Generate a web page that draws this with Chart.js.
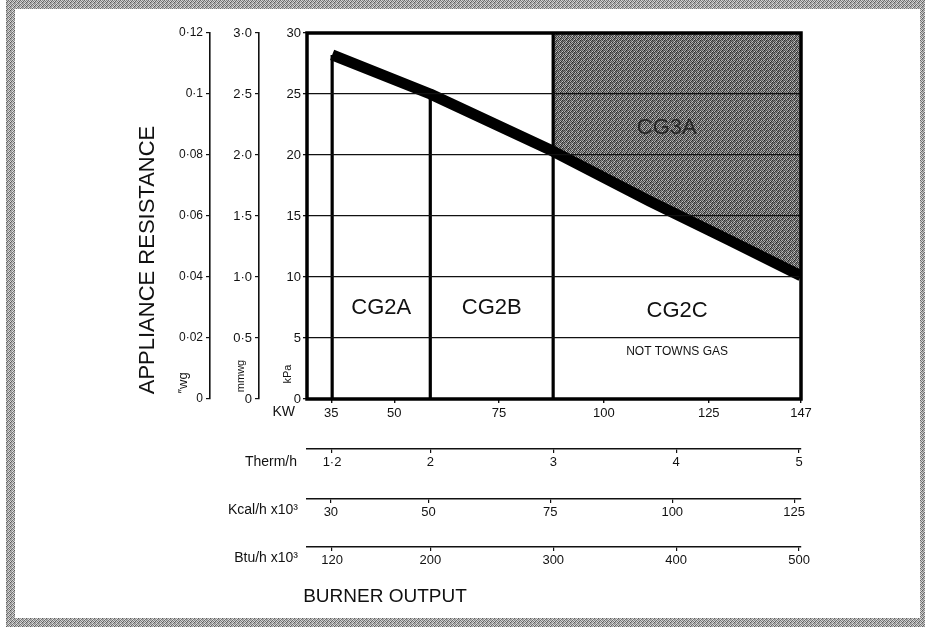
<!DOCTYPE html>
<html>
<head>
<meta charset="utf-8">
<script src="https://cdn.jsdelivr.net/npm/chart.js@4.4.1/dist/chart.umd.min.js"></script>
<style>
  html, body { margin: 0; padding: 0; background: #fff; }
  #wrap { width: 925px; height: 627px; position: relative; }
</style>
</head>
<body>
<div id="wrap"><canvas id="c"></canvas></div>
<script>
// ---------------- data ----------------
const kwTicks = [35, 50, 75, 100, 125, 147];
const kpaTicks = [0, 5, 10, 15, 20, 25, 30];
const mmwgTicks = [0, 0.5, 1.0, 1.5, 2.0, 2.5, 3.0];
const mmwgLabels = ['0', '0·5', '1·0', '1·5', '2·0', '2·5', '3·0'];
const wgTicks = [0, 0.02, 0.04, 0.06, 0.08, 0.1, 0.12];
const wgLabels = ['0', '0·02', '0·04', '0·06', '0·08', '0·1', '0·12'];
const thermTicks = [1.2, 2, 3, 4, 5];
const thermLabels = ['1·2', '2', '3', '4', '5'];
const kcalTicks = [30, 50, 75, 100, 125];
const btuTicks = [120, 200, 300, 400, 500];

// appliance resistance curve (kW -> kPa)
const curveKW  = [35.2, 58.6, 87.9, 111, 130, 147];
const curveKPa = [28.2, 25.0, 20.3, 16.2, 13.0, 10.1];

// category boundaries (1.2, 2 and 3 therm/h) and the height each reaches
const dividerKW = [35.2, 58.6, 87.9];
const dividerTopKPa = [28.2, 25.0, 30];

const regionNames = ['CG2A', 'CG2B', 'CG2C', 'CG3A'];
const regionNote = 'NOT TOWNS GAS';

// axis ranges and unit conversions
const KW_MIN = 29.2, KW_MAX = 147;
const KPA_MAX = 30;
const KW_PER_THERM = 29.3071;   // kW per therm/h
const KW_PER_KCAL = 1.163;      // kW per 1000 kcal/h
const KW_PER_BTU = 0.29307;     // kW per 1000 Btu/h
const MMWG_PER_KPA = 0.1;       // as printed on the chart
const WG_PER_KPA = 0.004;       // as printed on the chart

// ---------------- styling helpers ----------------
const FONT = "'Liberation Sans', Arial, Helvetica, sans-serif";
const INK = '#111';

function makePattern(pixels, size) {
  const c = document.createElement('canvas');
  c.width = size; c.height = size;
  const g = c.getContext('2d');
  const img = g.createImageData(size, size);
  pixels.forEach((v, i) => {
    img.data[i * 4] = v; img.data[i * 4 + 1] = v; img.data[i * 4 + 2] = v; img.data[i * 4 + 3] = 255;
  });
  g.putImageData(img, 0, 0);
  return g.createPattern(c, 'repeat');
}
const SHADE_PIXELS = [
   45, 175,  80, 140,  60, 190,
  150,  70, 185,  40, 160,  85,
   95, 165,  35, 125,  75, 150,
  180,  55, 115,  90, 200,  50,
   65, 145,  70, 170,  45, 120,
  135,  95, 195,  60, 110,  80
];
const EDGE_PIXELS = [
  110, 210, 140, 190,
  200, 120, 220, 100,
  150, 215,  90, 180,
  225, 115, 170, 145
];
const shadePattern = makePattern(SHADE_PIXELS, 6);
const edgePattern = makePattern(EDGE_PIXELS, 4);

const fixedTicks = (vals) => (s) => { s.ticks = vals.map(v => ({ value: v })); };
const fixWidth = (w) => (s) => { s.width = w; };
const fixHeight = (h) => (s) => { s.height = h; };
const labelFor = (vals, labels) => (v) => {
  const i = vals.findIndex(t => Math.abs(t - v) < 1e-9);
  return i >= 0 ? labels[i] : '';
};

function auxAxis(weight, min, max, ticks, labels, h) {
  return {
    type: 'linear', axis: 'x', position: 'bottom', weight: weight,
    min: min, max: max,
    afterBuildTicks: fixedTicks(ticks),
    afterFit: fixHeight(h),
    ticks: { autoSkip: false, maxRotation: 0, padding: 2, color: INK,
             font: { family: FONT, size: 13 }, callback: labelFor(ticks, labels) },
    grid: { drawOnChartArea: false, drawTicks: true, tickLength: 4, color: INK, lineWidth: 1.2 },
    border: { display: true, width: 1.6, color: INK }
  };
}
function sideAxis(weight, max, ticks, labels, w, size) {
  return {
    type: 'linear', axis: 'y', position: 'left', weight: weight,
    min: 0, max: max,
    afterBuildTicks: fixedTicks(ticks),
    afterFit: fixWidth(w),
    ticks: { autoSkip: false, padding: 3, color: INK,
             font: { family: FONT, size: size }, callback: labelFor(ticks, labels) },
    grid: { drawOnChartArea: false, drawTicks: true, tickLength: 4, color: INK, lineWidth: 1.2 },
    border: { display: true, width: 1.6, color: INK }
  };
}

// ---------------- datasets ----------------
const curveData = curveKW.map((x, i) => ({ x: x, y: curveKPa[i] }));
const shadeStart = curveKW.indexOf(dividerKW[2]);
const shadeData = [{ x: dividerKW[2], y: KPA_MAX }, { x: KW_MAX, y: KPA_MAX }]
  .concat(curveData.slice(shadeStart).reverse());

const datasets = [
  { label: 'Appliance resistance', data: curveData, borderColor: '#000', borderWidth: 11,
    borderCapStyle: 'butt', borderJoinStyle: 'round', pointRadius: 0, tension: 0,
    fill: false, order: 0, clip: 0 },
  ...dividerKW.map((x, i) => ({
    label: 'boundary ' + i, data: [{ x: x, y: 0 }, { x: x, y: dividerTopKPa[i] }],
    borderColor: '#000', borderWidth: 3.2, pointRadius: 0, fill: false, order: 1, clip: 0,
    borderCapStyle: 'butt'
  })),
  { label: 'CG3A', data: shadeData, borderColor: 'rgba(0,0,0,0)', borderWidth: 1,
    backgroundColor: shadePattern, pointRadius: 0, fill: 'shape', tension: 0, order: 2, clip: 0 }
];

// ---------------- decorations (frame, titles, region names) ----------------
function vText(ctx, txt, x, y, font) {
  ctx.save();
  ctx.translate(x, y);
  ctx.rotate(-Math.PI / 2);
  ctx.font = font;
  ctx.textAlign = 'center';
  ctx.textBaseline = 'middle';
  ctx.fillText(txt, 0, 0);
  ctx.restore();
}
const decor = {
  id: 'decor',
  beforeDraw(chart) {
    const { ctx, width, height } = chart;
    ctx.save();
    ctx.fillStyle = '#fff';
    ctx.fillRect(0, 0, width, height);
    ctx.fillStyle = edgePattern;
    ctx.fillRect(6, 0, width - 6, height);
    ctx.fillStyle = '#fff';
    ctx.fillRect(15, 9, width - 5 - 15, height - 9 - 9);
    ctx.restore();
  },
  afterDraw(chart) {
    const { ctx, chartArea: a, scales } = chart;
    const x = scales.x, y = scales.y;
    ctx.save();
    // plot frame
    ctx.strokeStyle = '#000';
    ctx.lineWidth = 3.5;
    ctx.strokeRect(a.left, a.top, a.right - a.left, a.bottom - a.top);

    ctx.fillStyle = INK;
    // region names
    ctx.font = '22px ' + FONT;
    ctx.textAlign = 'center';
    ctx.textBaseline = 'middle';
    const bounds = dividerKW.concat([KW_MAX]);
    for (let i = 0; i < 3; i++) {
      const cx = x.getPixelForValue((bounds[i] + bounds[i + 1]) / 2);
      ctx.fillText(regionNames[i], cx, y.getPixelForValue(i === 2 ? 7.2 : 7.5));
    }
    ctx.font = '12px ' + FONT;
    ctx.fillText(regionNote, x.getPixelForValue((bounds[2] + bounds[3]) / 2), y.getPixelForValue(3.85));
    ctx.fillStyle = '#262626';
    ctx.font = '22px ' + FONT;
    ctx.fillText(regionNames[3], x.getPixelForValue(115), y.getPixelForValue(22.2));

    // left unit labels
    ctx.fillStyle = INK;
    vText(ctx, 'APPLIANCE RESISTANCE', 148, (a.top + a.bottom) / 2 + 44, '22px ' + FONT);
    vText(ctx, '\u2033wg', scales.yWg.right - 27, a.bottom - 16, '13px ' + FONT);
    vText(ctx, 'mmwg', scales.yMm.right - 18, a.bottom - 23, '11px ' + FONT);
    vText(ctx, 'kPa', y.right - 19, a.bottom - 25, '11px ' + FONT);

    // bottom unit labels
    ctx.textAlign = 'right';
    ctx.textBaseline = 'middle';
    ctx.font = '14px ' + FONT;
    ctx.fillText('KW', x.left - 12, x.top + 13);
    ctx.fillText('Therm/h', scales.xTherm.left - 10, scales.xTherm.top + 13);
    ctx.fillText('Kcal/h x10\u00B3', scales.xKcal.left - 9, scales.xKcal.top + 11);
    ctx.fillText('Btu/h x10\u00B3', scales.xBtu.left - 9, scales.xBtu.top + 11);

    ctx.textAlign = 'center';
    ctx.font = '19px ' + FONT;
    ctx.fillText('BURNER OUTPUT', a.left + 78, scales.xBtu.top + 50);
    ctx.restore();
  }
};

new Chart(document.getElementById('c'), {
  type: 'line',
  data: { datasets: datasets },
  options: {
    responsive: true,
    maintainAspectRatio: false,
    animation: false,
    devicePixelRatio: 1,
    layout: { padding: { left: 0, right: 124, top: 33, bottom: 0 } },
    plugins: { legend: { display: false }, tooltip: { enabled: false } },
    scales: {
      x: {
        type: 'linear', axis: 'x', position: 'bottom', weight: 0,
        min: KW_MIN, max: KW_MAX,
        afterBuildTicks: fixedTicks(kwTicks),
        afterFit: fixHeight(50),
        ticks: { autoSkip: false, maxRotation: 0, padding: 3, color: INK,
                 font: { family: FONT, size: 13 }, callback: (v) => String(v) },
        grid: { drawOnChartArea: false, drawTicks: true, tickLength: 4, color: INK, lineWidth: 1.4 },
        border: { display: false }
      },
      xTherm: auxAxis(1, KW_MIN / KW_PER_THERM, KW_MAX / KW_PER_THERM, thermTicks, thermLabels, 50),
      xKcal: auxAxis(2, KW_MIN / KW_PER_KCAL, KW_MAX / KW_PER_KCAL, kcalTicks, kcalTicks.map(String), 48),
      xBtu: auxAxis(3, KW_MIN / KW_PER_BTU, KW_MAX / KW_PER_BTU, btuTicks, btuTicks.map(String), 80),
      y: {
        type: 'linear', axis: 'y', position: 'left', weight: 0,
        min: 0, max: KPA_MAX,
        afterBuildTicks: fixedTicks(kpaTicks),
        afterFit: fixWidth(48),
        ticks: { autoSkip: false, padding: 2, color: INK,
                 font: { family: FONT, size: 13 }, callback: (v) => String(v) },
        grid: { color: '#111', lineWidth: 1.3, drawTicks: true, tickLength: 4, z: 1 },
        border: { display: false }
      },
      yMm: sideAxis(1, KPA_MAX * MMWG_PER_KPA, mmwgTicks, mmwgLabels, 49, 13),
      yWg: sideAxis(2, KPA_MAX * WG_PER_KPA, wgTicks, wgLabels, 210, 12)
    }
  },
  plugins: [decor]
});
</script>
</body>
</html>
